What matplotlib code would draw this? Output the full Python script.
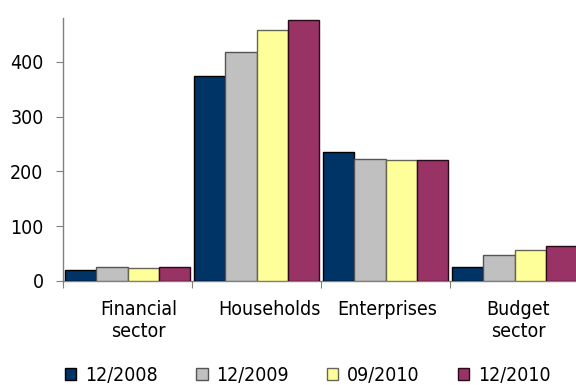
import matplotlib
matplotlib.use("Agg")
import matplotlib.pyplot as plt
from matplotlib.patches import Patch
import numpy as np

categories = ["Financial\nsector", "Households", "Enterprises", "Budget\nsector"]
series_names = ["12/2008", "12/2009", "09/2010", "12/2010"]
v_2008_12 = [20, 374, 235, 26]
v_2009_12 = [26, 418, 223, 48]
v_2010_09 = [23, 458, 220, 56]
v_2010_12 = [26, 476, 220, 63]
series_values = [v_2008_12, v_2009_12, v_2010_09, v_2010_12]
colors = ["#003366", "#C0C0C0", "#FFFF99", "#993366"]
edges = ["#000000", "#555555", "#666655", "#2a0a18"]
label_offsets = [0.087, 0.10, 0.016, 0.027]

plt.rcParams['font.family'] = ['DejaVu Sans']
plt.rcParams['font.stretch'] = 'condensed'
FS = 14

fig = plt.figure(figsize=(5.76, 3.85), dpi=100)
ax = fig.add_axes([63/576, 1-281/385, (579-63)/576, (281-18)/385])

x = np.arange(len(categories))
bw = 0.242
for k, (vals, c, e) in enumerate(zip(series_values, colors, edges)):
    ax.bar(x + (k - 1.5) * bw, vals, width=bw, color=c, edgecolor=e, linewidth=1.0,
           label=series_names[k], zorder=3)

ax.set_xlim(-0.5, 3.5)
ax.set_ylim(0, 480)
ax.set_yticks([0, 100, 200, 300, 400])
for s in ["top", "right"]:
    ax.spines[s].set_visible(False)
for s in ["left", "bottom"]:
    ax.spines[s].set_color("#808080")
    ax.spines[s].set_linewidth(1.0)
ax.tick_params(axis="y", direction="out", length=5, color="#808080", labelsize=FS, pad=9)
ax.set_xticks(np.arange(-0.5, 3.6, 1.0))
ax.set_xticklabels([])
ax.tick_params(axis="x", which="major", direction="out", length=5, color="#808080")
ax.set_xticks(x + np.array(label_offsets), minor=True)
ax.set_xticklabels(categories, minor=True, fontsize=FS, linespacing=1.15)
ax.tick_params(axis="x", which="minor", length=0, pad=14)

handles = [Patch(facecolor=c, edgecolor=e, linewidth=1.0) for c, e in zip(colors, edges)]
fig.legend(handles, series_names, loc="lower left", bbox_to_anchor=(57/576, -0.019),
           ncol=4, frameon=False, fontsize=FS, handlelength=0.6, handleheight=0.6,
           handletextpad=0.45, columnspacing=1.95, borderaxespad=0)

fig.savefig("out.png", dpi=100)
